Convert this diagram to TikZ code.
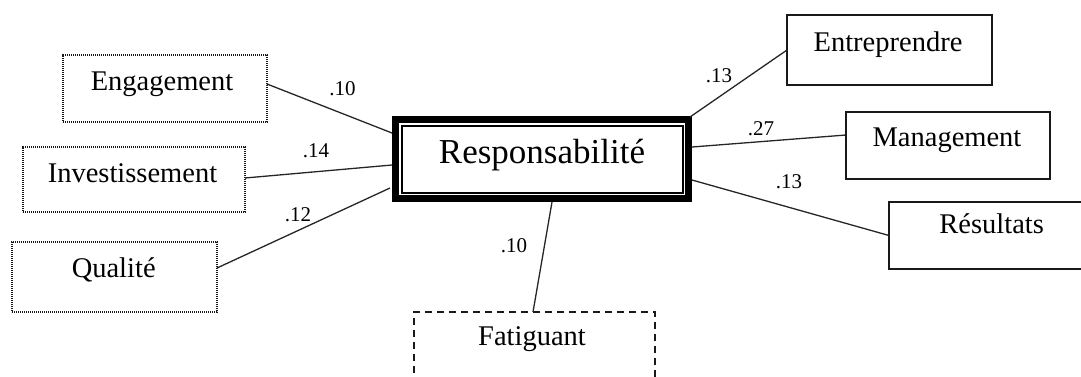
\documentclass[tikz,border=0pt]{standalone}
\usepackage{fontspec}
\setmainfont{Liberation Serif}
\begin{document}
\begin{tikzpicture}[x=1pt,y=-1pt,
  box/.style={rectangle,inner sep=0pt,outer sep=0pt,line width=1.2pt,draw=black!90},
  dotbox/.style={box,line width=1.3pt,dash pattern=on 1.1pt off 0.9pt},
  dashbox/.style={box,line width=1.5pt,dash pattern=on 7pt off 5pt},
  lbl/.style={anchor=base,inner sep=0pt,font=\fontsize{28.5}{34}\selectfont},
  big/.style={anchor=base,inner sep=0pt,font=\fontsize{35}{42}\selectfont},
  coef/.style={anchor=base,inner sep=0pt,font=\fontsize{21}{25}\selectfont},
  link/.style={line width=1.3pt,draw=black!85}]
\useasboundingbox (0,0) rectangle (1081,376);
\clip (0,0) rectangle (1081,376);
% boxes
\node[dotbox,minimum width=204pt,minimum height=67pt] (engbox) at (165,88.5) {};
\node[dotbox,minimum width=222pt,minimum height=65pt] (invbox) at (134,179.5) {};
\node[dotbox,minimum width=205pt,minimum height=70pt] (quabox) at (114.5,277) {};
\node[rectangle,inner sep=0pt,outer sep=0pt,minimum width=300pt,minimum height=86pt] (resp) at (542,159) {};
\draw[line width=7pt] ([shift={(3.5pt,-3.5pt)}]resp.north west) rectangle ([shift={(-3.5pt,3.5pt)}]resp.south east);
\draw[line width=1.1pt] ([shift={(10pt,-10pt)}]resp.north west) rectangle ([shift={(-9pt,9pt)}]resp.south east);
\node[dashbox,minimum width=241pt,minimum height=76pt] (fatbox) at (534.5,350) {};
\node[box,minimum width=205pt,minimum height=70pt] (entbox) at (889.5,50) {};
\node[box,minimum width=204pt,minimum height=67pt] (manbox) at (948,145.5) {};
\node[box,minimum width=212pt,minimum height=67pt] (resbox) at (995,235.5) {};
% texts
\node[lbl] (engt) at (162,90) {Engagement};
\node[lbl] (invt) at (132.5,182.7) {Investissement};
\node[lbl] (quat) at (113.7,277.7) {Qualité};
\node[big] (respt) at (542,163.3) {Responsabilité};
\node[lbl] (fatt) at (532,345.7) {Fatiguant};
\node[lbl] (entt) at (888,51.7) {Entreprendre};
\node[lbl] (mant) at (947,146) {Management};
\node[lbl] (rest) at (991.7,233.3) {Résultats};
% connectors
\draw[link] ([yshift=4.5pt]engbox.east) -- ([yshift=26pt]resp.west);
\draw[link] ([yshift=1.5pt]invbox.east) -- ([yshift=-6pt]resp.west);
\draw[link] ([yshift=9pt]quabox.east) -- ([shift={(-2pt,-29pt)}]resp.west);
\draw[link] ([xshift=10pt]resp.south) -- ([xshift=-1.5pt]fatbox.north);
\draw[link] ([shift={(-2pt,-1pt)}]resp.north east) -- (entbox.west);
\draw[link] ([yshift=12pt]resp.east) -- ([yshift=10.5pt]manbox.west);
\draw[link] ([yshift=-21pt]resp.east) -- (resbox.west);
% coefficients
\node[coef] (c1) at (342.5,95) {.10};
\node[coef] (c2) at (316,157.7) {.14};
\node[coef] (c3) at (298,221.7) {.12};
\node[coef] (c4) at (514,252.3) {.10};
\node[coef] (c5) at (719,82.7) {.13};
\node[coef] (c6) at (761,135) {.27};
\node[coef] (c7) at (789,188.3) {.13};
\end{tikzpicture}
\end{document}
